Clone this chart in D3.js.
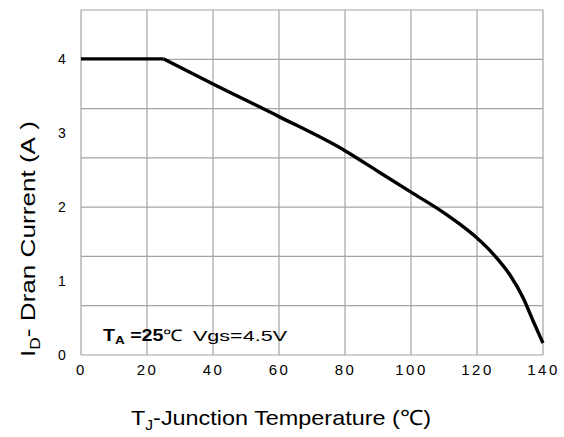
<!DOCTYPE html>
<html>
<head>
<meta charset="utf-8">
<script src="https://cdn.jsdelivr.net/npm/d3@7"></script>
<style>
  body { margin: 0; background: #fff; }
  text { font-family: "Liberation Sans", Arial, sans-serif; fill: #000; }
</style>
</head>
<body>
<svg width="564" height="437"></svg>
<script>
// derating curve
const temps    = [0, 25, 40, 60, 80, 90, 100, 110, 115, 120, 125, 130, 134, 137, 140];
const currents = [4, 4, 3.66, 3.22, 2.76, 2.48, 2.2, 1.92, 1.76, 1.58, 1.36, 1.08, 0.77, 0.46, 0.16];
const xTicks = [0, 20, 40, 60, 80, 100, 120, 140];
const yTicks = [0, 1, 2, 3, 4];
const yMax = 4.66;

const svg = d3.select('svg');
const margin = {left: 81, right: 21, top: 10, bottom: 82};
const width = 564 - margin.left - margin.right;
const height = 437 - margin.top - margin.bottom;

const x = d3.scaleLinear().domain([0, 140]).range([margin.left, margin.left + width]);
const y = d3.scaleLinear().domain([0, yMax]).range([margin.top + height, margin.top]);

// horizontal grid: 7 equal rows, not tied to tick labels
const gridY = d3.range(0, 8).map(i => i * yMax / 7);

const grid = svg.append('g').attr('stroke', '#a4a4a4').attr('stroke-width', 1.2);
grid.selectAll('.vg').data(xTicks).enter().append('line')
    .attr('x1', d => x(d)).attr('x2', d => x(d))
    .attr('y1', y(0)).attr('y2', y(yMax));
grid.selectAll('.hg').data(gridY).enter().append('line')
    .attr('x1', x(0)).attr('x2', x(140))
    .attr('y1', d => y(d)).attr('y2', d => y(d));

// axes
svg.append('g')
    .attr('transform', `translate(0,${y(0)})`)
    .call(d3.axisBottom(x).tickValues(xTicks).tickSize(0).tickPadding(9).tickFormat(d3.format('d')))
    .call(g => g.select('.domain').remove())
    .selectAll('text').attr('font-size', 15).attr('letter-spacing', 2.5);

svg.append('g')
    .attr('transform', `translate(${x(0) - 12},0)`)
    .call(d3.axisLeft(y).tickValues(yTicks).tickSize(0).tickPadding(0).tickFormat(d3.format('d')))
    .call(g => g.select('.domain').remove())
    .selectAll('text').attr('font-size', 14).attr('text-anchor', 'middle').attr('dx', -7);

// curve: straight flat part, then smooth fall-off
const pts = temps.map((t, i) => [t, currents[i]]);
const line = d3.line().x(d => x(d[0])).y(d => y(d[1]));
svg.append('path')
    .datum(pts.slice(0, 2))
    .attr('fill', 'none').attr('stroke', '#000').attr('stroke-width', 3.4)
    .attr('d', line);
svg.append('path')
    .datum(pts.slice(1))
    .attr('fill', 'none').attr('stroke', '#000').attr('stroke-width', 3.4)
    .attr('stroke-linejoin', 'round')
    .attr('d', line.curve(d3.curveMonotoneX));

// annotation (glyphs are stretched wide in the original)
const ann = svg.append('text').attr('x', 103).attr('y', 341).attr('font-size', 15)
    .attr('textLength', 80).attr('lengthAdjust', 'spacingAndGlyphs');
ann.append('tspan').attr('font-weight', 'bold').attr('font-size', 16).text('T');
ann.append('tspan').attr('font-weight', 'bold').attr('font-size', 11).attr('dy', 3).text('A');
ann.append('tspan').attr('font-weight', 'bold').attr('font-size', 16).attr('dy', -3).text(' =25');
ann.append('tspan').attr('font-size', 16).text('℃');
svg.append('text').attr('x', 193).attr('y', 341).attr('font-size', 15)
    .attr('textLength', 94).attr('lengthAdjust', 'spacingAndGlyphs')
    .text('Vgs=4.5V');

// axis titles
const yl = svg.append('text')
    .attr('transform', 'translate(35,357) rotate(-90)')
    .attr('font-size', 21)
    .attr('textLength', 236).attr('lengthAdjust', 'spacingAndGlyphs');
yl.append('tspan').text('I');
yl.append('tspan').attr('font-size', 14).attr('dy', 5).text('D');
yl.append('tspan').attr('dy', -5).text('- Dran Current (A\u00a0)');

const xl = svg.append('text')
    .attr('x', 131).attr('y', 425)
    .attr('font-size', 21)
    .attr('textLength', 300).attr('lengthAdjust', 'spacingAndGlyphs');
xl.append('tspan').text('T');
xl.append('tspan').attr('font-size', 14).attr('dy', 5).text('J');
xl.append('tspan').attr('dy', -5).text('-Junction Temperature (℃)');
</script>
</body>
</html>
